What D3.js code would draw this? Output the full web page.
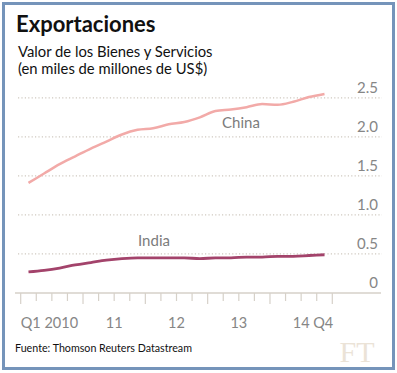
<!DOCTYPE html>
<html><head><meta charset="utf-8">
<script src="https://cdn.jsdelivr.net/npm/d3@7"></script>
<style>html,body{margin:0;padding:0;background:#fff;}svg{display:block;}</style>
</head><body>
<svg id="c" width="397" height="373"></svg>
<script>
// ---- data ----
const quarters = ["2010Q1","2010Q2","2010Q3","2010Q4","2011Q1","2011Q2","2011Q3","2011Q4",
  "2012Q1","2012Q2","2012Q3","2012Q4","2013Q1","2013Q2","2013Q3","2013Q4",
  "2014Q1","2014Q2","2014Q3","2014Q4"];
const chinaValues = [1.41,1.53,1.65,1.75,1.85,1.94,2.03,2.09,2.11,2.16,2.19,2.25,2.33,2.35,2.38,2.42,2.41,2.45,2.51,2.55];
const indiaValues = [0.27,0.29,0.32,0.36,0.39,0.42,0.44,0.45,0.45,0.45,0.45,0.44,0.45,0.45,0.46,0.46,0.47,0.47,0.48,0.49];
const yTicks = [0,0.5,1.0,1.5,2.0,2.5];
const yTickLabels = ["0","0.5","1.0","1.5","2.0","2.5"];
const yearLabels = [{t:6,label:"11"},{t:10,label:"12"},{t:14,label:"13"}];

const svg = d3.select("#c");
const x = d3.scaleLinear().domain([0,20]).range([20.7,332.3]);
const y = d3.scaleLinear().domain([0,2.5]).range([293,97.8]);

svg.append("rect").attr("x",0).attr("y",0).attr("width",397).attr("height",373).attr("fill","#fff");
svg.append("rect").attr("x",3.5).attr("y",3.5).attr("width",390).attr("height",365)
  .attr("fill","none").attr("stroke","#7594ba").attr("stroke-width",3);

// title
svg.append("text").attr("x",16).attr("y",32).text("Exportaciones")
  .attr("font-family","Lato, 'Open Sans', sans-serif").attr("font-weight","bold")
  .attr("font-size",22).attr("fill","#111");
svg.append("text").attr("x",18).attr("y",57).text("Valor de los Bienes y Servicios")
  .attr("font-family","Lato, 'Open Sans', sans-serif").attr("font-size",14.8).attr("fill","#111");
svg.append("text").attr("x",18).attr("y",74).text("(en miles de millones de US$)")
  .attr("font-family","Lato, 'Open Sans', sans-serif").attr("font-size",14.8).attr("fill","#111");

// gridlines
const grid = yTicks.filter(d=>d>0);
svg.append("g").selectAll("line").data(grid).join("line")
  .attr("x1",18).attr("x2",382).attr("y1",d=>y(d)).attr("y2",d=>y(d))
  .attr("stroke","#cfc9c0").attr("stroke-width",1.2).attr("stroke-dasharray","1.2,2.2");

// y labels
svg.append("g").selectAll("text").data(yTicks).join("text")
  .attr("x",378).attr("y",d=>y(d)-5).attr("text-anchor","end")
  .text((d,i)=>yTickLabels[i])
  .attr("font-family","Lato, sans-serif").attr("font-size",15).attr("fill","#868686");

// baseline & ticks
svg.append("line").attr("x1",15).attr("x2",381).attr("y1",y(0)).attr("y2",y(0))
  .attr("stroke","#d6d1c9").attr("stroke-width",1.5);
svg.append("g").selectAll("line").data(d3.range(0,21)).join("line")
  .attr("x1",d=>x(d)).attr("x2",d=>x(d)).attr("y1",y(0))
  .attr("y2",d=>y(0)+(d%4===0?11:8))
  .attr("stroke","#d6d1c9").attr("stroke-width",1.2);

// x labels
const xl = svg.append("g").attr("font-family","Lato, sans-serif").attr("font-size",14.5).attr("fill","#868686");
xl.append("text").attr("x",x(0)).attr("y",328).text("Q1 2010");
yearLabels.forEach(d=>xl.append("text").attr("x",x(d.t)).attr("y",328).attr("text-anchor","middle").text(d.label));
xl.append("text").attr("x",x(20)+1).attr("y",328).attr("text-anchor","end").text("14 Q4");

// lines
const line = d3.line().x((d,i)=>x(i+0.5)).y(d=>y(d)).curve(d3.curveMonotoneX);
svg.append("path").datum(chinaValues).attr("d",line).attr("fill","none")
  .attr("stroke","#f2aaa8").attr("stroke-width",2.5).attr("stroke-linejoin","round");
svg.append("path").datum(indiaValues).attr("d",line).attr("fill","none")
  .attr("stroke","#a3436b").attr("stroke-width",2.8).attr("stroke-linejoin","round");

// series labels
svg.append("text").attr("x",241).attr("y",128).attr("text-anchor","middle").text("China")
  .attr("font-family","Lato, sans-serif").attr("font-size",15).attr("fill","#7c7c7c");
svg.append("text").attr("x",154).attr("y",246).attr("text-anchor","middle").text("India")
  .attr("font-family","Lato, sans-serif").attr("font-size",15).attr("fill","#7c7c7c");

// source
svg.append("text").attr("x",15).attr("y",352).text("Fuente: Thomson Reuters Datastream")
  .attr("font-family","Lato, 'Open Sans', sans-serif").attr("font-size",10.7).attr("fill","#111");
// FT logo
svg.append("text").attr("x",357).attr("y",362).attr("text-anchor","middle").text("FT")
  .attr("font-family","'Liberation Serif', 'DejaVu Serif', serif").attr("font-size",30)
  .attr("fill","#ebe3d7");
</script>
</body></html>
